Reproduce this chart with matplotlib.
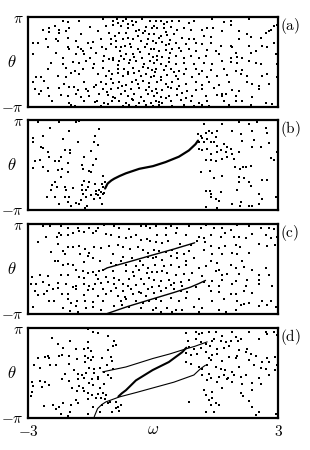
import numpy as np
import matplotlib
matplotlib.use("Agg")
from matplotlib import pyplot as plt

plt.rcParams['mathtext.fontset'] = 'cm'
plt.rcParams['font.family'] = 'serif'
plt.rcParams['font.serif'] = ['DejaVu Serif']

# scattered points, (omega, theta / pi)
dots_a = [
    (-2.17, 0.92), (-2.03, 0.90), (-1.77, 0.92), (-1.19, 0.96), (-0.95, 0.93), (-0.87, 0.96), (-0.73, 0.92),
    (-0.65, 0.96), (-0.51, 0.93), (-0.27, 0.96), (-0.07, 0.93),
    (-2.63, 0.73), (-2.49, 0.76), (-2.35, 0.81), (-2.25, 0.73), (-2.01, 0.77), (-1.51, 0.79), (-1.13, 0.81),
    (-0.95, 0.84), (-0.77, 0.81), (-0.61, 0.77), (-0.47, 0.84), (-0.33, 0.73), (-0.17, 0.79), (-0.03, 0.76),
    (-2.49, 0.68), (-2.25, 0.66), (-2.09, 0.70), (-1.73, 0.62), (-1.33, 0.70), (-1.05, 0.66), (-0.81, 0.66),
    (-0.65, 0.66), (-0.41, 0.70), (-0.23, 0.66), (-0.09, 0.62),
    (-2.89, 0.44), (-2.77, 0.44), (-2.57, 0.51), (-2.33, 0.53), (-2.27, 0.47), (-2.05, 0.55), (-1.85, 0.47),
    (-1.57, 0.44), (-1.45, 0.46), (-1.25, 0.51), (-1.01, 0.51), (-0.89, 0.47), (-0.73, 0.51), (-0.61, 0.55),
    (-0.49, 0.53), (-0.29, 0.47), (-0.13, 0.51), (-0.01, 0.47),
    (-2.51, 0.33), (-2.05, 0.34), (-2.01, 0.30), (-1.81, 0.33), (-1.73, 0.29), (-1.67, 0.25), (-1.49, 0.31),
    (-1.23, 0.33), (-1.13, 0.29), (-0.89, 0.33), (-0.77, 0.34), (-0.67, 0.36), (-0.53, 0.33), (-0.37, 0.29),
    (-0.19, 0.34), (-0.05, 0.29),
    (-2.87, 0.18), (-2.33, 0.21), (-2.17, 0.10), (-1.85, 0.18), (-1.65, 0.18), (-1.37, 0.21), (-1.17, 0.14),
    (-0.97, 0.10), (-0.77, 0.14), (-0.65, 0.19), (-0.49, 0.18), (-0.27, 0.10), (-0.09, 0.18), (-0.01, 0.12),
    (-2.45, -0.01), (-2.17, -0.04), (-1.93, 0.01), (-1.77, -0.01), (-1.61, 0.03), (-1.41, -0.04), (-1.05, 0.07),
    (-0.95, 0.04), (-0.81, 0.03), (-0.69, 0.07), (-0.57, -0.01), (-0.41, 0.03), (-0.21, -0.03), (-0.07, 0.03),
    (-2.51, -0.16), (-2.09, -0.12), (-1.87, -0.19), (-1.69, -0.16), (-1.45, -0.12), (-1.19, -0.12),
    (-1.05, -0.19), (-0.85, -0.16), (-0.69, -0.16), (-0.49, -0.12), (-0.33, -0.19), (-0.13, -0.12),
    (-0.03, -0.18),
    (-2.81, -0.34), (-2.69, -0.34), (-2.27, -0.30), (-2.09, -0.34), (-1.97, -0.23), (-1.77, -0.27),
    (-1.33, -0.27), (-1.13, -0.30), (-0.99, -0.27), (-0.85, -0.25), (-0.73, -0.30), (-0.61, -0.27),
    (-0.45, -0.25), (-0.29, -0.30), (-0.17, -0.27), (-0.05, -0.33),
    (-2.89, -0.45), (-2.61, -0.41), (-2.13, -0.49), (-1.65, -0.45), (-1.37, -0.50), (-1.25, -0.45),
    (-1.13, -0.49), (-0.95, -0.47), (-0.81, -0.45), (-0.65, -0.50), (-0.51, -0.45), (-0.37, -0.49),
    (-0.25, -0.41), (-0.09, -0.47),
    (-2.83, -0.60), (-2.69, -0.64), (-2.53, -0.58), (-2.25, -0.58), (-2.01, -0.56), (-1.81, -0.62),
    (-1.57, -0.64), (-1.41, -0.56), (-1.21, -0.60), (-1.01, -0.60), (-0.85, -0.58), (-0.67, -0.64),
    (-0.53, -0.60), (-0.33, -0.58), (-0.17, -0.62), (-0.03, -0.64),
    (-2.73, -0.71), (-2.49, -0.75), (-2.21, -0.73), (-2.05, -0.75), (-1.85, -0.71), (-1.73, -0.77),
    (-1.53, -0.75), (-1.29, -0.71), (-1.09, -0.73), (-0.95, -0.77), (-0.77, -0.71), (-0.61, -0.75),
    (-0.45, -0.70), (-0.29, -0.77), (-0.11, -0.71),
    (-2.43, -0.87), (-2.01, -0.90), (-1.65, -0.87), (-1.35, -0.86), (-1.17, -0.90), (-0.99, -0.87),
    (-0.81, -0.87), (-0.65, -0.90), (-0.49, -0.84), (-0.33, -0.90), (-0.21, -0.87), (-0.05, -0.92),
    (-1.97, -0.95), (-1.87, -0.97), (-1.25, -0.97), (-1.09, -0.93), (-0.73, -0.97), (-0.57, -0.95),
    (-0.41, -0.97), (-0.17, -0.95), (-0.01, -0.97),
    (0.06, 0.92), (0.18, 0.93), (0.34, 0.90), (0.46, 0.92), (0.62, 0.93), (0.86, 0.88), (0.98, 0.92),
    (1.42, 0.96), (1.70, 0.90), (1.86, 0.92), (1.88, 0.84), (2.30, 0.96), (2.82, 0.73), (2.90, 0.81),
    (2.98, 0.84),
    (0.10, 0.77), (0.26, 0.76), (0.42, 0.79), (0.58, 0.73), (0.74, 0.77), (0.90, 0.73), (1.18, 0.73),
    (1.30, 0.77), (1.44, 0.76), (1.66, 0.70), (2.06, 0.70), (2.26, 0.62), (2.70, 0.66), (2.78, 0.70),
    (0.02, 0.62), (0.18, 0.59), (0.34, 0.61), (0.50, 0.62), (0.70, 0.55), (0.86, 0.51), (0.98, 0.53),
    (1.22, 0.59), (1.38, 0.56), (2.06, 0.53), (2.34, 0.56), (2.58, 0.55),
    (0.06, 0.44), (0.22, 0.46), (0.38, 0.41), (0.54, 0.44), (0.78, 0.40), (1.02, 0.44), (1.18, 0.40),
    (1.38, 0.44), (1.62, 0.36), (1.88, 0.36), (1.90, 0.33), (2.30, 0.36), (2.62, 0.36), (2.74, 0.34),
    (2.90, 0.44),
    (0.02, 0.29), (0.14, 0.25), (0.30, 0.27), (0.46, 0.29), (0.66, 0.25), (0.86, 0.29), (1.02, 0.25),
    (1.30, 0.27), (1.50, 0.25), (1.98, 0.21), (2.34, 0.21), (2.46, 0.25),
    (0.10, 0.14), (0.22, 0.12), (0.38, 0.10), (0.54, 0.14), (0.74, 0.10), (0.90, 0.14), (1.10, 0.10),
    (1.26, 0.14), (1.58, 0.18), (1.86, 0.10), (2.02, 0.12), (2.14, 0.10), (2.94, 0.18),
    (0.02, -0.01), (0.18, -0.03), (0.38, 0.01), (0.54, -0.04), (0.74, -0.01), (0.98, -0.03), (1.22, -0.01),
    (1.42, -0.04), (1.66, 0.03), (1.86, 0.01), (2.02, -0.01), (2.30, 0.03), (2.46, -0.01), (2.58, -0.04),
    (2.98, -0.04),
    (0.06, -0.16), (0.26, -0.18), (0.42, -0.16), (0.62, -0.19), (0.78, -0.16), (1.02, -0.16), (1.18, -0.19),
    (1.38, -0.18), (1.70, -0.16), (1.98, -0.19), (2.14, -0.18),
    (0.02, -0.30), (0.18, -0.33), (0.34, -0.28), (0.54, -0.30), (0.74, -0.27), (0.94, -0.33), (1.10, -0.27),
    (1.30, -0.34), (1.54, -0.30), (1.78, -0.28), (2.10, -0.27), (2.26, -0.30), (2.62, -0.30), (2.74, -0.27),
    (2.98, -0.33),
    (0.10, -0.45), (0.30, -0.49), (0.46, -0.45), (0.62, -0.53), (0.78, -0.49), (1.02, -0.45), (1.18, -0.50),
    (1.34, -0.45), (1.58, -0.50), (1.82, -0.45), (2.26, -0.45), (2.38, -0.49), (2.54, -0.53), (2.78, -0.49),
    (0.06, -0.60), (0.22, -0.62), (0.42, -0.58), (0.58, -0.60), (0.82, -0.64), (1.02, -0.62), (1.18, -0.60),
    (1.46, -0.58), (1.66, -0.71), (1.74, -0.70), (1.90, -0.62), (2.06, -0.64), (2.54, -0.60),
    (0.02, -0.75), (0.18, -0.77), (0.38, -0.75), (0.58, -0.73), (0.78, -0.79), (0.94, -0.75), (1.26, -0.75),
    (1.54, -0.73), (1.66, -0.75), (1.98, -0.75), (2.38, -0.77),
    (0.06, -0.87), (0.22, -0.90), (0.42, -0.87), (0.66, -0.84), (0.90, -0.87), (1.10, -0.90), (1.30, -0.87),
    (1.70, -0.87), (1.98, -0.86), (2.14, -0.87), (2.70, -0.92),
    (0.14, -0.95), (0.46, -0.97), (0.74, -0.95), (0.98, -0.97), (1.18, -0.95), (1.34, -0.97), (1.82, -0.95),
    (2.34, -0.95), (2.86, -0.93),
    # denser middle band
    (-0.85, 0.88), (-0.40, 0.90), (0.26, 0.86), (-0.60, 0.85), (0.02, 0.80), (-0.20, 0.70), (0.30, 0.68),
    (-0.90, 0.58), (-0.35, 0.58), (0.14, 0.55), (0.40, 0.50), (-0.55, 0.40), (-0.15, 0.40), (0.30, 0.38),
    (-1.00, 0.40), (-0.80, 0.24), (-0.30, 0.22), (0.40, 0.20), (0.62, 0.32), (-0.45, 0.12), (0.10, 0.05),
    (-0.55, 0.05), (-1.20, 0.02), (0.30, -0.08), (-0.85, -0.07), (-0.25, -0.10), (0.50, -0.22),
    (-0.60, -0.22), (0.05, -0.22), (-1.00, -0.38), (-0.40, -0.40), (0.20, -0.40), (0.60, -0.38),
    (-0.75, -0.54), (-0.10, -0.55), (0.35, -0.55), (-1.10, -0.66), (0.10, -0.68), (0.70, -0.68),
    (-0.50, -0.82), (0.30, -0.80), (-0.90, -0.80), (-0.60, -0.99), (-0.25, -0.99), (0.15, -0.88),
    (-1.40, -0.88), (-1.60, -0.60), (-1.50, 0.10), (-1.90, -0.55),
]

dots_b = [
    (-2.77, 0.96), (-2.25, 0.96), (-1.85, 0.96), (-1.77, 0.98), (-2.47, 0.84), (-1.29, 0.81), (-2.01, 0.76),
    (-2.63, 0.66), (-2.87, 0.61), (-2.15, 0.59), (-1.79, 0.51), (-1.39, 0.66), (-2.87, 0.51), (-1.41, 0.51),
    (-2.69, 0.41), (-2.63, 0.39), (-2.11, 0.33), (-1.99, 0.33), (-1.98, 0.27), (-1.33, 0.46), (-2.51, 0.29),
    (-1.49, 0.31), (-2.49, 0.19), (-1.65, 0.18), (-1.37, 0.14), (-2.83, 0.09), (-2.21, 0.19), (-2.25, 0.10),
    (-2.71, 0.12), (-2.35, 0.09), (-2.03, 0.04), (-1.71, 0.01), (-1.43, 0.01), (-2.89, -0.06), (-2.63, -0.04),
    (-2.27, -0.10), (-2.19, -0.08), (-2.05, -0.16), (-1.67, -0.08), (-1.53, -0.12), (-1.49, -0.16),
    (-2.53, -0.12), (-1.21, -0.23), (-2.21, -0.27), (-2.35, -0.38), (-1.65, -0.36), (-1.53, -0.38),
    (-2.43, -0.45), (-2.31, -0.49), (-2.11, -0.49), (-1.71, -0.45), (-1.55, -0.49), (-1.39, -0.41),
    (-1.23, -0.41), (-1.15, -0.38), (-1.71, -0.56), (-1.61, -0.55), (-1.19, -0.49), (-1.29, -0.55),
    (-2.45, -0.55), (-2.09, -0.56), (-1.93, -0.50), (-1.37, -0.58), (-1.25, -0.60), (-1.37, -0.64),
    (-1.31, -0.67), (-1.19, -0.64), (-2.55, -0.71), (-2.35, -0.70), (-2.01, -0.71), (-1.69, -0.65),
    (-1.61, -0.71), (-1.49, -0.67), (-1.41, -0.75), (-1.27, -0.73), (-1.17, -0.62), (-2.11, -0.70),
    (-2.25, -0.86), (-2.05, -0.82), (-1.85, -0.84), (-1.77, -0.87), (-1.97, -0.92), (-1.63, -0.95),
    (-1.59, -0.92), (-1.23, -0.87), (-1.73, -0.77),
    (1.22, 0.93), (1.66, 0.93), (2.06, 0.96), (2.30, 0.93), (2.50, 0.96), (2.70, 0.84), (1.08, 0.70),
    (1.14, 0.66), (1.26, 0.73), (1.34, 0.76), (1.42, 0.73), (1.54, 0.76), (1.18, 0.61), (1.30, 0.59),
    (1.46, 0.53), (1.52, 0.62), (1.90, 0.76), (2.10, 0.70), (2.38, 0.76), (2.74, 0.73), (1.10, 0.51),
    (1.22, 0.53), (1.40, 0.53), (1.54, 0.44), (1.70, 0.47), (1.78, 0.41), (1.86, 0.36), (2.14, 0.55),
    (2.42, 0.56), (2.58, 0.41), (2.78, 0.49), (1.10, 0.36), (1.18, 0.33), (1.30, 0.36), (1.38, 0.25),
    (1.54, 0.29), (1.62, 0.33), (1.74, 0.29), (1.90, 0.25), (2.06, 0.29), (1.66, 0.14), (1.78, 0.18),
    (1.94, 0.14), (1.50, 0.10), (1.28, 0.12), (1.40, 0.12), (2.38, 0.40), (2.82, 0.16), (2.90, 0.12),
    (2.98, 0.29), (1.96, -0.03), (2.08, -0.08), (2.16, -0.04), (2.24, -0.03), (2.34, -0.01), (1.14, -0.16),
    (1.36, -0.12), (1.46, -0.28), (1.66, -0.23), (2.06, -0.27), (2.18, -0.28), (2.30, -0.38), (2.06, -0.38),
    (2.62, -0.33), (2.74, -0.33), (1.28, -0.58), (1.36, -0.58), (1.40, -0.64), (1.62, -0.60), (1.50, -0.75),
    (1.58, -0.80), (1.38, -0.71), (2.02, -0.55), (2.34, -0.47), (2.54, -0.64), (2.62, -0.75), (2.94, -0.70),
    (1.90, -0.87), (2.08, -0.92), (2.30, -0.90), (2.38, -0.92), (2.10, -0.82), (2.54, -0.87), (1.26, -0.93),
    (1.54, -0.95), (2.99, -0.41), (2.99, -0.18),
]

dots_c = [
    (-2.63, 0.96), (-2.47, 0.96), (-2.21, 0.96), (-2.05, 0.93), (-1.81, 0.92), (-1.53, 0.92), (-1.33, 0.93),
    (-1.17, 0.98), (-0.93, 0.96), (-0.81, 0.93), (-0.57, 0.90), (-0.29, 0.96), (-0.17, 0.96), (-0.07, 0.93),
    (-2.25, 0.81), (-2.21, 0.76), (-2.31, 0.71), (-2.05, 0.76), (-1.93, 0.81), (-1.77, 0.86), (-1.65, 0.83),
    (-1.45, 0.81), (-1.37, 0.86), (-1.13, 0.79), (-1.01, 0.76), (-0.81, 0.73), (-0.65, 0.70), (-0.53, 0.73),
    (-0.41, 0.76), (-0.29, 0.66), (-0.15, 0.68), (-0.07, 0.62), (-2.75, 0.61), (-2.57, 0.73),
    (-2.29, 0.56), (-2.05, 0.49), (-2.45, 0.39), (-2.17, 0.41), (-1.93, 0.49), (-1.77, 0.53), (-1.63, 0.46),
    (-1.53, 0.36), (-1.41, 0.49), (-1.25, 0.47), (-1.05, 0.53), (-0.85, 0.55), (-0.71, 0.49), (-0.55, 0.46),
    (-0.37, 0.49), (-0.23, 0.44), (-0.11, 0.36),
    (-2.11, 0.33), (-1.75, 0.34), (-1.57, 0.29), (-1.45, 0.24), (-0.97, 0.33), (-0.73, 0.27), (-0.77, 0.18),
    (-0.51, 0.25), (-0.31, 0.19), (-0.13, 0.27), (-0.01, 0.25),
    (-2.35, 0.18), (-2.29, 0.19), (-2.15, 0.10), (-2.05, 0.12), (-1.93, 0.09), (-1.65, 0.16), (-1.27, 0.18),
    (-1.01, 0.14), (-0.89, 0.09), (-0.65, 0.10), (-0.41, 0.07), (-0.25, 0.10), (-0.11, 0.03),
    (-1.85, -0.01), (-1.69, -0.04), (-1.55, -0.08), (-1.43, -0.06), (-1.37, -0.12), (-1.29, -0.03),
    (-1.21, -0.01), (-0.95, -0.04), (-0.65, -0.04), (-0.49, -0.06), (-0.33, -0.01), (-0.15, -0.08),
    (-0.03, -0.06),
    (-2.91, -0.18), (-2.71, -0.12), (-2.53, -0.16), (-2.21, -0.13), (-2.03, -0.12), (-1.77, -0.18),
    (-1.65, -0.19), (-1.33, -0.21), (-1.13, -0.18), (-0.93, -0.19), (-0.81, -0.23), (-0.57, -0.21),
    (-0.45, -0.16), (-0.29, -0.21), (-0.09, -0.19),
    (-2.93, -0.34), (-2.81, -0.33), (-2.63, -0.28), (-2.49, -0.36), (-2.29, -0.30), (-2.09, -0.34),
    (-1.85, -0.38), (-1.65, -0.33), (-1.53, -0.38), (-1.39, -0.34), (-1.25, -0.30), (-1.09, -0.28),
    (-0.93, -0.34), (-0.73, -0.33), (-0.61, -0.38), (-0.41, -0.36), (-0.21, -0.33), (-0.03, -0.40),
    (-2.83, -0.49), (-2.55, -0.49), (-2.41, -0.45), (-2.29, -0.41), (-1.93, -0.40), (-1.85, -0.45),
    (-1.57, -0.47), (-1.45, -0.45), (-1.19, -0.45), (-1.01, -0.49), (-0.89, -0.41), (-0.73, -0.49),
    (-0.53, -0.45), (-0.33, -0.50), (-0.13, -0.45),
    (-2.77, -0.58), (-2.61, -0.56), (-2.19, -0.55), (-2.05, -0.56), (-1.65, -0.58), (-1.33, -0.60),
    (-1.13, -0.56), (-0.85, -0.60), (-0.67, -0.62), (-0.49, -0.55), (-0.29, -0.53), (-0.17, -0.60),
    (-2.49, -0.71), (-2.37, -0.70), (-2.03, -0.67), (-1.97, -0.75), (-1.83, -0.71), (-1.63, -0.70),
    (-1.45, -0.73), (-1.21, -0.70), (-0.77, -0.70), (-0.65, -0.67), (-0.41, -0.71), (-0.25, -0.75),
    (-0.09, -0.70),
    (-2.15, -0.87), (-1.85, -0.82), (-1.61, -0.87), (-1.45, -0.84), (-1.25, -0.90), (-0.93, -0.82),
    (-0.75, -0.79), (-0.57, -0.84), (-0.29, -0.87), (-0.01, -0.92), (-2.89, -0.84), (-1.99, -0.93),
    (-1.81, -0.95),
    (0.08, 0.96), (0.30, 0.92), (0.42, 0.96), (0.58, 0.93), (0.86, 0.96), (1.14, 0.93), (1.26, 0.98),
    (1.46, 0.92), (1.66, 0.93), (1.86, 0.88), (2.02, 0.98), (2.30, 0.96), (2.58, 0.93), (2.78, 0.93),
    (2.90, 0.90),
    (0.10, 0.77), (0.30, 0.76), (0.54, 0.81), (0.78, 0.77), (1.10, 0.73), (1.22, 0.70), (1.38, 0.76),
    (1.62, 0.73), (1.72, 0.81), (1.94, 0.71), (2.06, 0.73), (2.22, 0.70), (2.38, 0.79), (2.70, 0.77),
    (2.82, 0.70), (2.98, 0.71),
    (0.06, 0.61), (0.22, 0.59), (0.36, 0.62), (0.64, 0.56), (0.90, 0.55), (1.06, 0.62), (1.24, 0.61),
    (1.40, 0.53), (1.58, 0.47), (1.72, 0.51), (1.98, 0.55), (2.08, 0.49), (2.54, 0.56), (2.74, 0.53),
    (2.92, 0.55),
    (0.02, 0.44), (0.14, 0.41), (0.30, 0.39), (0.46, 0.44), (0.58, 0.36), (0.74, 0.33), (0.86, 0.40),
    (1.22, 0.44), (1.42, 0.33), (1.66, 0.33), (1.90, 0.36), (2.02, 0.33), (2.30, 0.36),
    (0.06, 0.27), (0.22, 0.21), (0.42, 0.29), (0.58, 0.25), (0.78, 0.18), (0.98, 0.24), (1.38, 0.19),
    (1.54, 0.14), (1.86, 0.10), (2.14, 0.18),
    (0.04, 0.09), (0.26, 0.07), (0.42, 0.10), (0.62, 0.04), (0.78, 0.10), (1.10, 0.03), (1.26, 0.07),
    (1.58, -0.01), (1.98, 0.03), (2.18, 0.04), (2.38, -0.01), (2.70, 0.03),
    (0.10, -0.06), (0.22, -0.04), (0.34, -0.08), (0.54, -0.12), (0.74, -0.10), (0.94, -0.08), (1.18, -0.16),
    (1.50, -0.04), (1.66, -0.12), (1.78, -0.10), (2.06, -0.10), (2.54, -0.13), (2.78, -0.13),
    (0.02, -0.25), (0.18, -0.27), (0.38, -0.23), (0.50, -0.30), (0.66, -0.28), (0.86, -0.25), (1.22, -0.28),
    (1.42, -0.27), (1.66, -0.23), (1.98, -0.27), (2.26, -0.25), (2.54, -0.25),
    (0.14, -0.38), (0.30, -0.41), (0.42, -0.36), (0.70, -0.38), (1.02, -0.40), (1.34, -0.38), (1.58, -0.38),
    (1.90, -0.34), (2.22, -0.38), (2.54, -0.33), (2.86, -0.38),
    (0.02, -0.53), (0.18, -0.49), (0.50, -0.45), (0.66, -0.49), (0.82, -0.50), (1.38, -0.49), (1.58, -0.50),
    (1.86, -0.55), (1.98, -0.55), (2.18, -0.49), (2.38, -0.53),
    (0.06, -0.67), (0.18, -0.71), (0.42, -0.65), (0.62, -0.70), (0.78, -0.65), (1.10, -0.67), (1.42, -0.71),
    (1.70, -0.67), (2.02, -0.70), (2.30, -0.75), (2.62, -0.70), (2.82, -0.71),
    (0.06, -0.87), (0.34, -0.86), (0.54, -0.90), (0.70, -0.92), (0.98, -0.84), (1.18, -0.87), (1.58, -0.90),
    (2.10, -0.79), (2.18, -0.77), (2.54, -0.82), (2.74, -0.79), (2.94, -0.84),
    (0.18, -0.95), (0.46, -0.95), (1.10, -0.95), (1.74, -0.95), (1.98, -0.92),
]

dots_d = [
    (-1.57, 0.98), (-1.45, 0.92), (-1.33, 0.90), (-2.43, 0.79), (-1.99, 0.73), (-2.29, 0.66), (-1.57, 0.70),
    (-1.65, 0.53), (-1.57, 0.56), (-1.85, 0.55), (-1.07, 0.83), (-0.93, 0.73), (-0.89, 0.62), (-0.97, 0.61),
    (-1.09, 0.51), (-2.15, 0.56), (-1.49, 0.49), (-2.77, 0.33), (-2.59, 0.36), (-2.53, 0.39), (-2.49, 0.33),
    (-2.25, 0.39), (-2.01, 0.39), (-2.19, 0.41), (-1.83, 0.31), (-1.63, 0.39), (-1.57, 0.33), (-1.45, 0.36),
    (-1.23, 0.33), (-1.01, 0.36), (-0.99, 0.27), (-2.85, 0.18), (-2.71, 0.12), (-2.47, 0.19), (-2.33, 0.19),
    (-2.01, 0.21), (-1.63, 0.24), (-1.49, 0.29), (-1.89, 0.07), (-1.53, 0.12), (-1.41, 0.10), (-1.27, 0.12),
    (-1.11, 0.18), (-0.95, 0.09), (-2.11, -0.01), (-1.81, -0.01), (-1.71, -0.04), (-1.61, 0.01),
    (-1.41, 0.01), (-1.17, 0.03), (-1.31, -0.08), (-1.07, -0.03), (-2.91, -0.19), (-2.71, -0.18),
    (-2.59, -0.19), (-2.89, -0.28), (-2.67, -0.30), (-2.49, -0.27), (-2.19, -0.12), (-2.01, -0.18),
    (-1.81, -0.13), (-1.65, -0.10), (-1.53, -0.21), (-1.47, -0.12), (-1.33, -0.13), (-1.01, -0.10),
    (-1.77, -0.28), (-1.67, -0.34), (-1.45, -0.27), (-1.27, -0.34), (-1.17, -0.25), (-1.95, -0.34),
    (-1.83, -0.40), (-1.65, -0.40), (-1.57, -0.45), (-1.47, -0.49), (-1.31, -0.47), (-1.21, -0.45),
    (-1.13, -0.49), (-1.57, -0.58), (-1.37, -0.56), (-1.25, -0.55), (-1.15, -0.58), (-1.03, -0.64),
    (-0.89, -0.64), (-2.61, -0.73), (-2.41, -0.70), (-2.25, -0.75), (-2.33, -0.79), (-2.17, -0.67),
    (-1.85, -0.60), (-1.97, -0.71), (-1.81, -0.67), (-1.45, -0.75), (-1.23, -0.71), (-1.09, -0.67),
    (-0.89, -0.77), (-0.81, -0.84), (-0.85, -0.75), (-0.77, -0.70), (-2.21, -0.92), (-1.99, -0.87),
    (-2.05, -0.95), (-1.57, -0.90), (-1.27, -0.86), (-0.99, -0.87), (-2.91, -0.41), (-2.93, -0.50),
    (0.78, 0.90), (1.02, 0.93), (1.10, 0.88), (1.18, 0.90), (1.34, 0.92), (1.50, 0.92), (1.66, 0.84),
    (1.90, 0.93), (1.98, 0.81), (2.10, 0.77), (2.30, 0.93), (2.70, 0.93), (2.74, 0.88), (2.98, 0.86),
    (2.90, 0.93),
    (0.84, 0.71), (1.02, 0.76), (1.14, 0.70), (1.26, 0.66), (1.42, 0.73), (1.46, 0.77), (1.62, 0.73),
    (1.74, 0.70), (1.86, 0.71), (2.04, 0.73), (2.12, 0.76), (2.54, 0.77),
    (0.86, 0.59), (0.98, 0.55), (1.14, 0.56), (1.36, 0.61), (1.54, 0.55), (1.70, 0.56), (1.82, 0.61),
    (2.06, 0.51), (2.26, 0.55),
    (0.78, 0.46), (0.92, 0.40), (1.06, 0.44), (1.26, 0.47), (1.42, 0.41), (1.54, 0.44), (1.82, 0.36),
    (2.02, 0.39), (2.22, 0.47), (2.34, 0.44), (2.46, 0.39), (2.74, 0.33), (2.92, 0.36),
    (0.78, 0.25), (0.92, 0.21), (1.34, 0.33), (1.40, 0.29), (1.66, 0.27), (1.98, 0.33), (2.30, 0.29),
    (2.62, 0.25), (2.78, 0.24), (2.98, 0.19),
    (1.10, 0.14), (1.18, 0.10), (1.30, 0.18), (1.50, 0.14), (1.62, 0.10), (1.72, 0.07), (1.90, 0.03),
    (2.06, 0.14), (2.42, 0.18), (2.58, 0.12), (2.70, 0.10), (2.92, 0.07),
    (1.18, -0.04), (1.34, -0.01), (1.38, -0.10), (1.58, -0.08), (1.70, -0.04), (1.80, -0.10), (1.94, -0.03),
    (2.10, -0.08), (2.22, -0.03), (2.54, -0.10), (2.78, -0.04),
    (1.30, -0.16), (1.54, -0.19), (1.78, -0.13), (1.90, -0.19), (2.14, -0.23), (2.38, -0.21), (2.58, -0.25),
    (1.22, -0.38), (1.42, -0.41), (1.66, -0.34), (2.12, -0.45), (2.16, -0.50), (2.38, -0.38),
    (1.26, -0.49), (1.34, -0.60), (1.42, -0.55), (1.50, -0.67), (1.38, -0.71), (1.58, -0.70), (2.30, -0.62),
    (2.38, -0.75),
    (0.86, -0.64), (1.26, -0.87), (1.46, -0.87), (2.46, -0.93), (2.54, -0.87), (2.94, -0.92),
]

# dense branches drawn as lines, (omega, theta / pi)
branch_b_w = [-1.15, -1.09, -1.00, -0.93, -0.80, -0.65, -0.33, 0.00, 0.30, 0.62, 0.86, 1.02, 1.08]
branch_b_t = [-0.52, -0.41, -0.34, -0.30, -0.24, -0.18, -0.08, -0.02, 0.07, 0.19, 0.33, 0.47, 0.55]

upper_c_w = [-1.20, -1.10, -0.60, 0.00, 0.50, 1.00]
upper_c_t = [-0.02, 0.03, 0.16, 0.32, 0.45, 0.59]
lower_c_w = [-1.10, -0.60, 0.00, 0.50, 0.90, 1.10, 1.26]
lower_c_t = [-0.99, -0.83, -0.66, -0.52, -0.40, -0.32, -0.25]

upper_d_w = [-1.21, -0.65, 0.00, 0.40, 0.74, 1.00, 1.30]
upper_d_t = [0.03, 0.14, 0.33, 0.43, 0.53, 0.60, 0.70]
middle_d_w = [-0.83, -0.75, -0.65, -0.41, -0.01, 0.38, 0.70, 0.80]
middle_d_t = [-0.52, -0.45, -0.38, -0.16, 0.07, 0.25, 0.47, 0.57]
lower_d_w = [-1.41, -1.37, -1.33, -1.23, -1.13, -0.81, -0.40, -0.01, 0.50, 0.98, 1.14, 1.26]
lower_d_t = [-0.97, -0.88, -0.79, -0.70, -0.64, -0.53, -0.43, -0.33, -0.20, -0.04, 0.10, 0.18]

panel_labels = ['(a)', '(b)', '(c)', '(d)']
panel_dots = [dots_a, dots_b, dots_c, dots_d]
panel_lines = [
    [],
    [(branch_b_w, branch_b_t, 1.6)],
    [(upper_c_w, upper_c_t, 1.0), (lower_c_w, lower_c_t, 1.0)],
    [(upper_d_w, upper_d_t, 0.8), (middle_d_w, middle_d_t, 1.5), (lower_d_w, lower_d_t, 0.8)],
]

fig = plt.figure(figsize=(3.1, 4.5), dpi=100)
bottoms = [0.7622, 0.5333, 0.3022, 0.0711]
left, width, height = 0.0903, 0.8065, 0.199

for i, bottom in enumerate(bottoms):
    ax = fig.add_axes([left, bottom, width, height])
    pts = np.array(panel_dots[i])
    ax.scatter(pts[:, 0], np.pi * pts[:, 1], s=1.0, marker='s', c='k', linewidths=0)
    for w, t, lw in panel_lines[i]:
        ax.plot(w, np.pi * np.array(t), c='k', lw=lw, solid_capstyle='round')

    ax.set_xlim(-3, 3)
    ax.set_ylim(-np.pi, np.pi)
    for sp in ax.spines.values():
        sp.set_linewidth(1.6)
    ax.set_yticks([-np.pi, np.pi], [r'$-\pi$', r'$\pi$'])
    ax.tick_params(axis='y', length=0, pad=3, labelsize=11)
    ax.set_xticks([-3, 3], [r'$-3$', r'$3$'])
    ax.tick_params(axis='x', length=0, pad=4, labelsize=11)
    if i < 3:
        ax.tick_params(axis='x', labelbottom=False)
    ax.text(-0.045, 0.5, r'$\theta$', transform=ax.transAxes, ha='right', va='center', fontsize=12)
    ax.text(1.008, 0.9, r'$\mathrm{' + panel_labels[i] + '}$', transform=ax.transAxes,
            ha='left', va='center', fontsize=11)

ax.text(0.5, -0.13, r'$\omega$', transform=ax.transAxes, ha='center', va='center', fontsize=12)

fig.savefig('out.png', dpi=100)
